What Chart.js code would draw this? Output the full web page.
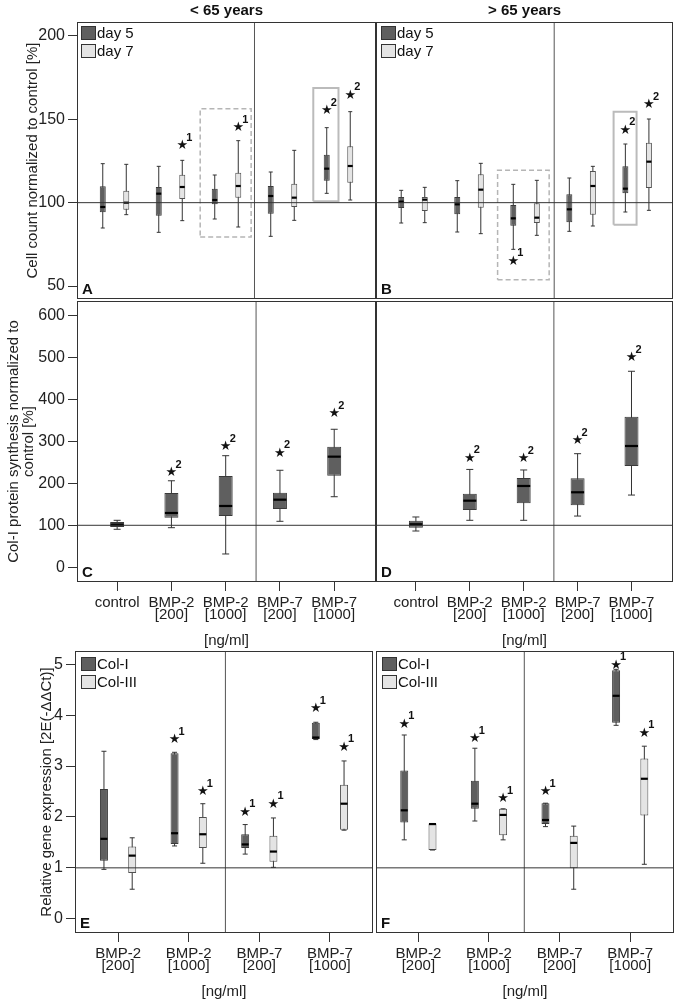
<!DOCTYPE html>
<html>
<head>
<meta charset="utf-8">
<title>BMP box plots</title>
<script src="https://cdn.jsdelivr.net/npm/chart.js@4.4.1/dist/chart.umd.min.js"></script>
<style>
  body { margin: 0; background: #fff; }
  #wrap { position: relative; width: 680px; height: 1004px; }
  #wrap canvas { position: absolute; }
</style>
</head>
<body>
<div id="wrap">
  <canvas id="chartA" width="380" height="300" style="left:0;top:0"></canvas>
  <canvas id="chartB" width="308" height="300" style="left:372px;top:0"></canvas>
  <canvas id="chartC" width="380" height="354" style="left:0;top:296px"></canvas>
  <canvas id="chartD" width="308" height="354" style="left:372px;top:296px"></canvas>
  <canvas id="chartE" width="380" height="358" style="left:0;top:646px"></canvas>
  <canvas id="chartF" width="308" height="358" style="left:372px;top:646px"></canvas>
</div>
<script>
// categories
const doseLabels = [['control'], ['BMP-2', '[200]'], ['BMP-2', '[1000]'], ['BMP-7', '[200]'], ['BMP-7', '[1000]']];
const geneLabels = [['BMP-2', '[200]'], ['BMP-2', '[1000]'], ['BMP-7', '[200]'], ['BMP-7', '[1000]']];
const daySeries = ['day 5', 'day 7'];
const geneSeries = ['Col-I', 'Col-III'];

// tick labels
const cellTicks = [50, 100, 150, 200];
const colTicks = [0, 100, 200, 300, 400, 500, 600];
const geneTicks = [0, 1, 2, 3, 4, 5];

// box values per category: [min, q1, median, q3, max]
const cellYoungDay5 = [[84.8, 94.2, 97.4, 109.8, 123.4], [82.2, 92.2, 105.4, 109.4, 121.8], [90.2, 99, 101.6, 108.4, 116.6], [79.8, 93.4, 104, 110, 118.4], [105.6, 113.2, 120.4, 128.8, 145]];
const cellYoungDay7 = [[92.8, 95.8, 100, 107.2, 123], [89.2, 102.2, 109.4, 116.8, 125.4], [85.4, 103, 110, 118, 137.2], [89.4, 97.4, 103, 111.4, 131.4], [101.6, 112, 122, 133.8, 154.6]];
const cellOldDay5 = [[87.8, 96.8, 100.6, 103.4, 107.4], [82.4, 93, 99, 103.4, 113.2], [72, 86.2, 90.6, 98.6, 111], [82.8, 88.2, 96, 105, 114.8], [94.4, 105.6, 108.4, 121.8, 135.2]];
const cellOldDay7 = [[88, 95, 101.8, 103.4, 109.2], [81.4, 97, 107.8, 117, 123.6], [80.4, 87.8, 91, 99.6, 113.4], [86, 92.8, 110, 119, 121.8], [95.4, 108.8, 124.6, 136, 150.2]];
const colYoung = [[90.5, 96, 101.5, 107.9, 111.9], [94.3, 118, 129.3, 177, 206], [31.7, 122, 146, 217.4, 265.7], [109.5, 138.8, 161, 177.6, 231], [168, 218, 263.4, 287, 328.6]];
const colOld = [[86.4, 94.3, 102.4, 111, 119.8], [111.9, 136.4, 158.6, 175.4, 233], [111.9, 152.4, 193.6, 212.6, 231.7], [122, 147.6, 178.6, 211.9, 270.5], [172, 241.2, 288.8, 358.6, 466.7]];
const geneYoungCol1 = [[0.97, 1.14, 1.57, 2.55, 3.29], [1.43, 1.47, 1.68, 3.25, 3.27], [1.27, 1.39, 1.46, 1.66, 1.85], [3.52, 3.53, 3.56, 3.85, 3.86]];
const geneYoungCol3 = [[0.58, 0.9, 1.24, 1.42, 1.59], [1.09, 1.39, 1.66, 2.0, 2.26], [1.01, 1.12, 1.32, 1.63, 1.98], [1.74, 1.75, 2.26, 2.63, 3.1]];
const geneOldCol1 = [[1.55, 1.89, 2.13, 2.91, 3.61], [1.92, 2.16, 2.26, 2.71, 3.35], [1.81, 1.86, 1.94, 2.27, 2.27], [3.8, 3.85, 4.38, 4.88, 4.9]];
const geneOldCol3 = [[1.35, 1.35, 1.86, 1.87, 1.87], [1.55, 1.64, 2.04, 2.16, 2.16], [0.58, 0.99, 1.49, 1.63, 1.82], [1.07, 2.03, 2.75, 3.15, 3.39]];

// significance stars: [value, superscript] or null
const starsYoungDay5 = [null, null, null, null, [155, '2']];
const starsYoungDay7 = [null, [134, '1'], [145, '1'], null, [164.4, '2']];
const starsOldDay5 = [null, null, [64.8, '1'], null, [143.4, '2']];
const starsOldDay7 = [null, null, null, null, [158.8, '2']];
const starsColYoung = [null, [225, '2'], [287, '2'], [271.4, '2'], [365, '2']];
const starsColOld = [null, [259.5, '2'], [258.6, '2'], [301.4, '2'], [498.3, '2']];
const starsYoungCol1 = [null, [3.51, '1'], [2.09, '1'], [4.13, '1']];
const starsYoungCol3 = [null, [2.49, '1'], [2.25, '1'], [3.37, '1']];
const starsOldCol1 = [[3.82, '1'], [3.54, '1'], [2.5, '1'], [4.98, '1']];
const starsOldCol3 = [null, [2.36, '1'], null, [3.64, '1']];

// highlighted groups: [x from, x to, y from, y to]
const markYoungDashed = [1.53, 2.44, 79.4, 156.4];
const markYoungSolid = [3.55, 4.0, 100.8, 168.8];
const markOldDashed = [1.51, 2.43, 53.8, 119.4];
const markOldSolid = [3.58, 3.99, 86.8, 154.6];

Chart.defaults.font.family = '"Liberation Sans", Arial, Helvetica, sans-serif';
Chart.defaults.color = '#222';

const DARK = '#5f5f5f';
const LIGHT = '#e4e4e4';

function boxSets(stats, shift, fill, w, cap) {
  const xs = stats.map((s, i) => i + shift);
  return [
    { type: 'bar', grouped: false, order: 4, maxBarThickness: 1, backgroundColor: '#333',
      data: stats.map((s, i) => ({ x: xs[i], y: [s[0], s[4]] })) },
    { type: 'bar', grouped: false, order: 3, maxBarThickness: w, backgroundColor: fill,
      borderColor: fill === DARK ? '#3a3a3a' : '#505050', borderWidth: 1, borderSkipped: false,
      data: stats.map((s, i) => ({ x: xs[i], y: [s[1], s[3]] })) },
    { type: 'scatter', order: 2, pointStyle: 'line', pointRadius: cap, borderColor: '#333', borderWidth: 1,
      data: stats.flatMap((s, i) => [{ x: xs[i], y: s[0] }, { x: xs[i], y: s[4] }]) },
    { type: 'scatter', order: 1, pointStyle: 'line', pointRadius: w / 2 - 0.5, borderColor: '#000', borderWidth: 2.2,
      data: stats.map((s, i) => ({ x: xs[i], y: s[2] })) }
  ];
}

function refSets(xr, yr, refY, sepX) {
  return [
    { type: 'line', order: 0, borderColor: '#333', borderWidth: 1, pointRadius: 0,
      data: [{ x: xr[0], y: refY }, { x: xr[1], y: refY }] },
    { type: 'line', order: 0, borderColor: '#555', borderWidth: 1, pointRadius: 0,
      data: [{ x: sepX, y: yr[0] }, { x: sepX, y: yr[1] }] }
  ];
}

function rectSet(r, dashed) {
  return { type: 'line', order: 6, pointRadius: 0, borderColor: dashed ? '#b5b5b5' : '#bbbbbb',
    borderWidth: dashed ? 1.5 : 2, borderDash: dashed ? [5, 3] : [],
    data: [{ x: r[0], y: r[2] }, { x: r[1], y: r[2] }, { x: r[1], y: r[3] }, { x: r[0], y: r[3] }, { x: r[0], y: r[2] }] };
}

function starList(stars, shift) {
  const out = [];
  stars.forEach((s, i) => { if (s) out.push({ x: i + shift, y: s[0], sup: s[1] }); });
  return out;
}

const decor = {
  id: 'decor',
  afterDatasetsDraw(chart, args, opts) {
    const { ctx, chartArea: a, scales: { x, y } } = chart;
    ctx.save();
    ctx.strokeStyle = '#333';
    ctx.lineWidth = 1;
    ctx.strokeRect(Math.round(a.left) + 0.5, Math.round(a.top) + 0.5,
      Math.round(a.right - a.left) - 1, Math.round(a.bottom - a.top) - 1);

    ctx.fillStyle = '#111';
    (opts.stars || []).forEach(s => {
      const px = x.getPixelForValue(s.x), py = y.getPixelForValue(s.y);
      ctx.font = '13px "DejaVu Sans"';
      ctx.textAlign = 'center';
      ctx.textBaseline = 'middle';
      ctx.fillText('\u2605', px, py);
      ctx.font = 'bold 11px "Liberation Sans", Arial';
      ctx.textAlign = 'left';
      ctx.fillText(s.sup, px + 4, py - 8);
    });

    (opts.legend || []).forEach((it, i) => {
      const lx = Math.round(a.left + opts.legendAt[0]), ly = Math.round(a.top + opts.legendAt[1] + i * 18);
      ctx.fillStyle = it.color;
      ctx.fillRect(lx, ly, 15, 14);
      ctx.strokeStyle = '#333';
      ctx.strokeRect(lx + 0.5, ly + 0.5, 14, 13);
      ctx.fillStyle = '#111';
      ctx.font = '15px "Liberation Sans", Arial';
      ctx.textAlign = 'left';
      ctx.textBaseline = 'middle';
      ctx.fillText(it.text, lx + 16, ly + 8);
    });

    if (opts.letter) {
      ctx.fillStyle = '#111';
      ctx.font = 'bold 15px "Liberation Sans", Arial';
      ctx.textAlign = 'left';
      ctx.textBaseline = 'alphabetic';
      ctx.fillText(opts.letter, a.left + 5, a.bottom - 5);
    }
    if (opts.title) {
      ctx.fillStyle = '#111';
      ctx.font = 'bold 15px "Liberation Sans", Arial';
      ctx.textAlign = 'center';
      ctx.textBaseline = 'middle';
      ctx.fillText(opts.title, (a.left + a.right) / 2, a.top - 11);
    }
    ctx.restore();
  }
};

function noPad(s) {
  s.paddingTop = 0; s.paddingBottom = 0; s.paddingLeft = 0; s.paddingRight = 0;
}

function panel(id, p) {
  const hasX = !!p.showX;
  const hasY = !!p.yTitle;
  return new Chart(document.getElementById(id), {
    type: 'bar',
    data: { datasets: p.datasets },
    options: {
      responsive: false,
      animation: false,
      events: [],
      layout: { padding: p.padding, autoPadding: false },
      plugins: { legend: { display: false }, tooltip: { enabled: false }, decor: p.decor },
      scales: {
        x: {
          type: 'linear', offset: false, min: p.xRange[0], max: p.xRange[1], display: hasX,
          afterBuildTicks: s => { s.ticks = p.cats.map((c, i) => ({ value: i })); },
          afterFit: s => { if (hasX) s.height = p.xHeight; noPad(s); },
          grid: { offset: false, drawOnChartArea: false, drawTicks: true, tickLength: 9, color: '#333' },
          border: { display: false },
          ticks: { autoSkip: false, maxRotation: 0, padding: 5, color: '#222',
            font: { size: 15, lineHeight: 0.85 }, callback: v => p.cats[v] },
          title: { display: hasX, text: '[ng/ml]', color: '#222', font: { size: 15 },
            padding: { top: 0, bottom: p.xTitlePad || 0 } }
        },
        y: {
          min: p.yRange[0], max: p.yRange[1], display: hasY, beginAtZero: false,
          afterBuildTicks: s => { s.ticks = p.yTicks.map(v => ({ value: v })); },
          afterFit: s => { if (hasY) s.width = p.yWidth; noPad(s); },
          grid: { offset: false, drawOnChartArea: false, drawTicks: true, tickLength: 9, color: '#333' },
          border: { display: false },
          ticks: { padding: 3, color: '#222', font: { size: 16 } },
          title: { display: hasY, text: p.yTitle, color: '#222',
            font: { size: 15, lineHeight: p.yTitleLH || 1.2 }, padding: { top: p.yTitlePad || 0, bottom: 0 } }
        }
      }
    },
    plugins: [decor]
  });
}

const legendDays = [{ text: daySeries[0], color: DARK }, { text: daySeries[1], color: LIGHT }];
const legendGenes = [{ text: geneSeries[0], color: DARK }, { text: geneSeries[1], color: LIGHT }];

// A: cell count, < 65 years
panel('chartA', {
  cats: doseLabels, xRange: [-0.67, 4.67], yRange: [42.2, 208.4], yTicks: cellTicks,
  padding: { left: 0, top: 22, right: 4, bottom: 1 }, yWidth: 77,
  yTitle: 'Cell count normalized to control [%]', yTitlePad: 24,
  datasets: [
    ...boxSets(cellYoungDay5, -0.21, DARK, 6, 2),
    ...boxSets(cellYoungDay7, 0.21, LIGHT, 6, 2),
    ...refSets([-0.67, 4.67], [42.2, 208.4], 100, 2.5),
    rectSet(markYoungDashed, true), rectSet(markYoungSolid, false)
  ],
  decor: { title: '< 65 years', letter: 'A', legend: legendDays, legendAt: [4, 4],
    stars: [...starList(starsYoungDay5, -0.21), ...starList(starsYoungDay7, 0.21)] }
});

// B: cell count, > 65 years
panel('chartB', {
  cats: doseLabels, xRange: [-0.66, 4.64], yRange: [42.2, 208.4], yTicks: cellTicks,
  padding: { left: 4, top: 22, right: 7, bottom: 1 },
  datasets: [
    ...boxSets(cellOldDay5, -0.21, DARK, 6, 2),
    ...boxSets(cellOldDay7, 0.21, LIGHT, 6, 2),
    ...refSets([-0.66, 4.64], [42.2, 208.4], 100, 2.52),
    rectSet(markOldDashed, true), rectSet(markOldSolid, false)
  ],
  decor: { title: '> 65 years', letter: 'B', legend: legendDays, legendAt: [5, 4],
    stars: [...starList(starsOldDay5, -0.21), ...starList(starsOldDay7, 0.21)] }
});

// C: Col-I protein, < 65 years
panel('chartC', {
  cats: doseLabels, showX: true, xRange: [-0.74, 4.77], yRange: [-35, 634], yTicks: colTicks,
  padding: { left: 0, top: 5, right: 4, bottom: 0 }, yWidth: 77, xHeight: 68,
  yTitle: ['Col-I protein synthesis normalized to', 'control [%]'], yTitlePad: 6, yTitleLH: 1.0,
  datasets: [
    ...boxSets(colYoung, 0, DARK, 14, 3.5),
    ...refSets([-0.74, 4.77], [-35, 634], 100, 2.56)
  ],
  decor: { letter: 'C', stars: starList(starsColYoung, 0) }
});

// D: Col-I protein, > 65 years
panel('chartD', {
  cats: doseLabels, showX: true, xRange: [-0.74, 4.77], yRange: [-35, 634], yTicks: colTicks,
  padding: { left: 4, top: 5, right: 7, bottom: 0 }, xHeight: 68,
  datasets: [
    ...boxSets(colOld, 0, DARK, 14, 3.5),
    ...refSets([-0.74, 4.77], [-35, 634], 100, 2.56)
  ],
  decor: { letter: 'D', stars: starList(starsColOld, 0) }
});

// E: gene expression, < 65 years
panel('chartE', {
  cats: geneLabels, showX: true, xRange: [-0.61, 3.61], yRange: [-0.28, 5.26], yTicks: geneTicks,
  padding: { left: 0, top: 5, right: 7, bottom: 0 }, yWidth: 75, xHeight: 71, xTitlePad: 3,
  yTitle: 'Relative gene expression [2E(-\u0394\u0394Ct)]', yTitlePad: 38,
  datasets: [
    ...boxSets(geneYoungCol1, -0.2, DARK, 8, 2.5),
    ...boxSets(geneYoungCol3, 0.2, LIGHT, 8, 2.5),
    ...refSets([-0.61, 3.61], [-0.28, 5.26], 1, 1.52)
  ],
  decor: { letter: 'E', legend: legendGenes, legendAt: [6, 6],
    stars: [...starList(starsYoungCol1, -0.2), ...starList(starsYoungCol3, 0.2)] }
});

// F: gene expression, > 65 years
panel('chartF', {
  cats: geneLabels, showX: true, xRange: [-0.6, 3.62], yRange: [-0.28, 5.26], yTicks: geneTicks,
  padding: { left: 4, top: 5, right: 6, bottom: 0 }, xHeight: 71, xTitlePad: 3,
  datasets: [
    ...boxSets(geneOldCol1, -0.2, DARK, 8, 2.5),
    ...boxSets(geneOldCol3, 0.2, LIGHT, 8, 2.5),
    ...refSets([-0.6, 3.62], [-0.28, 5.26], 1, 1.5)
  ],
  decor: { letter: 'F', legend: legendGenes, legendAt: [6, 6],
    stars: [...starList(starsOldCol1, -0.2), ...starList(starsOldCol3, 0.2)] }
});
</script>
</body>
</html>
